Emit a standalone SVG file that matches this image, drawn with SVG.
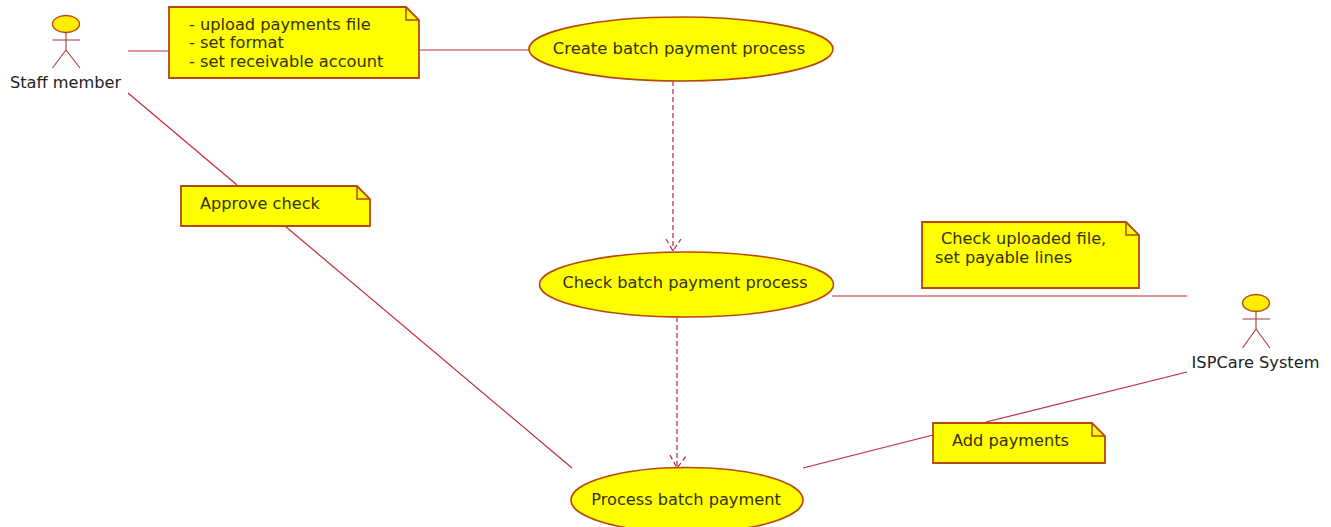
<svg xmlns="http://www.w3.org/2000/svg" width="1331" height="527" viewBox="0 0 1331 527">
<style>
text{font-family:"DejaVu Sans",sans-serif;font-size:16.2px;fill:#333300}
.lbl{fill:#222222}
.uc{fill:#ffff00;stroke:#b8460f;stroke-width:1.6}
.note{fill:#ffff00;stroke:#b8460f;stroke-width:1.8}
.fold{fill:none;stroke:#b8460f;stroke-width:1.5}
.head{fill:#ffee00;stroke:#b8460f;stroke-width:1.4}
.body{fill:none;stroke:#a83a3a;stroke-width:1.1}
.conn{fill:none;stroke:#c02a3a;stroke-width:1.2}
.dash{fill:none;stroke:#b02a3a;stroke-width:1.2;stroke-dasharray:5 3}
</style>
<rect width="1331" height="527" fill="#ffffff"/>
<g id="connectors">
<line class="conn" x1="128" y1="51" x2="170" y2="51"/>
<line class="conn" x1="419" y1="50" x2="529" y2="50"/>
<line class="conn" x1="128" y1="93" x2="237" y2="185"/>
<line class="conn" x1="285" y1="226" x2="572" y2="468"/>
<line class="conn" x1="832" y1="296" x2="1187" y2="296"/>
<line class="conn" x1="803" y1="468" x2="933" y2="435"/>
<line class="conn" x1="986" y1="422" x2="1187" y2="372"/>
<path class="dash" d="M673 81L673 251"/>
<path class="dash" d="M666 239L673 251L681 239"/>
<path class="dash" d="M677 317L677 468"/>
<path class="dash" d="M670 455L677 468L687 455"/>
</g>
<g id="actor-staff">
<ellipse class="head" cx="66" cy="24" rx="13.500" ry="8.500"/>
<path class="body" d="M66 32V50M52.500 40H80M66 50L52.500 68M66 50L80 68"/>
<text class="lbl" x="65.500" y="88" text-anchor="middle">Staff member</text>
</g>
<g id="note-upload">
<path class="note" d="M169 7H406L419 20V78H169Z"/>
<path class="fold" d="M406 7V20H419"/>
<text x="189" y="30">- upload payments file</text>
<text x="189" y="48">- set format</text>
<text x="189" y="67">- set receivable account</text>
</g>
<g id="usecase-create">
<ellipse class="uc" cx="681" cy="49" rx="152" ry="32"/>
<text x="679" y="54" text-anchor="middle" style="font-size:16.4px">Create batch payment process</text>
</g>
<g id="note-approve">
<path class="note" d="M181 186H357L370 199V226H181Z"/>
<path class="fold" d="M357 186V199H370"/>
<text x="200" y="209">Approve check</text>
</g>
<g id="usecase-check">
<ellipse class="uc" cx="686.500" cy="284.500" rx="147" ry="32.500"/>
<text x="685" y="288" text-anchor="middle">Check batch payment process</text>
</g>
<g id="note-uploaded">
<path class="note" d="M922 222H1126L1139 235V288H922Z"/>
<path class="fold" d="M1126 222V235H1139"/>
<text x="941" y="244">Check uploaded file,</text>
<text x="935" y="263">set payable lines</text>
</g>
<g id="actor-ispcare">
<ellipse class="head" cx="1256" cy="303" rx="13.500" ry="8.500"/>
<path class="body" d="M1256 312V329M1242.500 319H1270M1256 329L1242.500 348M1256 329L1270 348"/>
<text class="lbl" x="1255.500" y="368" text-anchor="middle">ISPCare System</text>
</g>
<g id="note-add">
<path class="note" d="M933 423H1092L1105 436V463H933Z"/>
<path class="fold" d="M1092 423V436H1105"/>
<text x="952" y="446">Add payments</text>
</g>
<g id="usecase-process">
<ellipse class="uc" cx="687" cy="500" rx="116" ry="32.500"/>
<text x="686" y="505" text-anchor="middle">Process batch payment</text>
</g>
</svg>
